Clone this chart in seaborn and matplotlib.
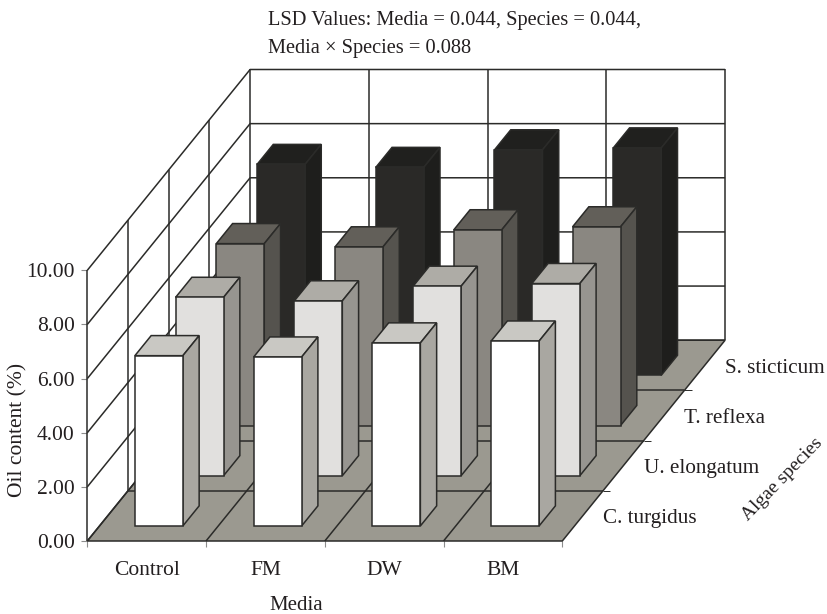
import numpy as np
import pandas as pd
import matplotlib
matplotlib.use('Agg')
import matplotlib.pyplot as plt
import seaborn as sns
from matplotlib.patches import Polygon

media = ['Control', 'FM', 'DW', 'BM']
species = ['C. turgidus', 'U. elongatum', 'T. reflexa', 'S. sticticum']

# oil content, one list per species
c_turgidus = [6.29, 6.24, 6.76, 6.83]
u_elongatum = [6.59, 6.46, 7.00, 7.10]
t_reflexa = [6.72, 6.60, 7.23, 7.34]
s_sticticum = [7.79, 7.68, 8.33, 8.40]
oil = [c_turgidus, u_elongatum, t_reflexa, s_sticticum]

y_ticks = [0, 2, 4, 6, 8, 10]

# face, top, side for each row
face_colors = ['#ffffff', '#e1e0de', '#8a8781', '#2a2927']
top_colors = ['#c9c8c3', '#aeaca6', '#625f59', '#20201e']
side_colors = ['#a9a7a1', '#979590', '#55534e', '#1e1e1c']
floor_color = '#9b9990'
line_color = '#2b2b29'

sns.set_theme(style='white')
plt.rcParams['font.family'] = ['Liberation Serif', 'DejaVu Serif']
plt.rcParams['text.color'] = '#231f20'
font_size = 15.5

fig = plt.figure(figsize=(8.28, 6.14), dpi=100)
ax = fig.add_axes([87.3 / 828, (614 - 541) / 614, 475 / 828, 270.7 / 614])

# oblique projection: one species row shifts the drawing by this much
sx = 40.7 / 118.75
sy = 50.2 / 27.07
n_m, n_s = len(media), len(species)


def line(xs, ys, z=1.5, lw=1.1, color=line_color):
    ax.plot(xs, ys, color=color, lw=lw, zorder=z, clip_on=False, solid_capstyle='butt')


# floor
ax.add_patch(Polygon([(0, 0), (n_m, 0), (n_m + n_s * sx, n_s * sy), (n_s * sx, n_s * sy)],
                     fc=floor_color, ec=line_color, lw=1.1, zorder=1, clip_on=False))
for d in range(1, n_s):
    line([d * sx, n_m + d * sx], [d * sy, d * sy])
    line([n_m + d * sx, n_m + d * sx + 0.06], [d * sy, d * sy], lw=0.7)
for m in range(1, n_m):
    line([m, m + n_s * sx], [0, n_s * sy])

# walls
for v in y_ticks:
    line([0, n_s * sx, n_m + n_s * sx], [v, v + n_s * sy, v + n_s * sy])
for d in range(n_s + 1):
    line([d * sx, d * sx], [d * sy, 10 + d * sy])
for m in range(1, n_m + 1):
    line([m + n_s * sx, m + n_s * sx], [n_s * sy, 10 + n_s * sy])

# bars, back row first
bar_w = 0.404
front = 0.3
depth = 0.4
for d in range(n_s - 1, -1, -1):
    base = (d + front) * sy
    shift = (d + front) * sx
    df = pd.DataFrame({'pos': np.arange(n_m) + 0.5 + shift, 'oil': oil[d]})
    z = 10 + (n_s - d) * 2
    sns.barplot(data=df, x='pos', y='oil', native_scale=True, width=bar_w, bottom=base,
                color=face_colors[d], saturation=1, edgecolor=line_color, linewidth=1.1,
                errorbar=None, clip_on=False, zorder=z + 1, ax=ax)
    dx, dy = depth * sx, depth * sy
    for x, h in zip(df['pos'], df['oil']):
        l, r, t = x - bar_w / 2, x + bar_w / 2, base + h
        ax.add_patch(Polygon([(l, t), (r, t), (r + dx, t + dy), (l + dx, t + dy)],
                             fc=top_colors[d], ec=line_color, lw=1.1, zorder=z, clip_on=False))
        ax.add_patch(Polygon([(r, base), (r + dx, base + dy), (r + dx, t + dy), (r, t)],
                             fc=side_colors[d], ec=line_color, lw=1.1, zorder=z, clip_on=False))

ax.set_xlim(0, n_m)
ax.set_ylim(0, 10)
sns.despine(ax=ax, left=True, bottom=True, right=True, top=True)

ax.set_xlabel('')
ax.set_yticks(y_ticks, [f'{v:.2f}' for v in y_ticks])
ax.set_xticks(np.arange(n_m + 1), [''] * (n_m + 1))
ax.set_xticks(np.arange(n_m) + 0.5, media, minor=True)
ax.tick_params(axis='both', which='major', length=4, width=0.8, color='#8c8c8c', left=True, bottom=True)
ax.tick_params(axis='y', labelsize=font_size, pad=5, labelcolor='#231f20')
ax.tick_params(axis='x', which='minor', length=0, pad=14.5, labelsize=font_size, labelcolor='#231f20')

ax.set_ylabel('Oil content (%)', fontsize=font_size, color='#231f20')
ax.yaxis.set_label_coords(-60 / 475, (541 - 430) / 270.7)
ax.text(1.757, -2.38, 'Media', fontsize=15, ha='center', va='center')

for d, name in enumerate(species):
    ax.text(n_m + (d + 0.5) * sx + 0.17, (d + 0.5) * sy - 0.1, name, fontsize=15.2, ha='left', va='center')
ax.text(5.85, 2.28, 'Algae species', fontsize=14, rotation=46, ha='center', va='center')

fig.text(268 / 828, 1 - 21 / 614, 'LSD Values: Media = 0.044, Species = 0.044,', fontsize=14.7, va='center')
fig.text(268 / 828, 1 - 49 / 614, 'Media \u00d7 Species = 0.088', fontsize=14.7, va='center')

fig.savefig('out.png', dpi=100)
